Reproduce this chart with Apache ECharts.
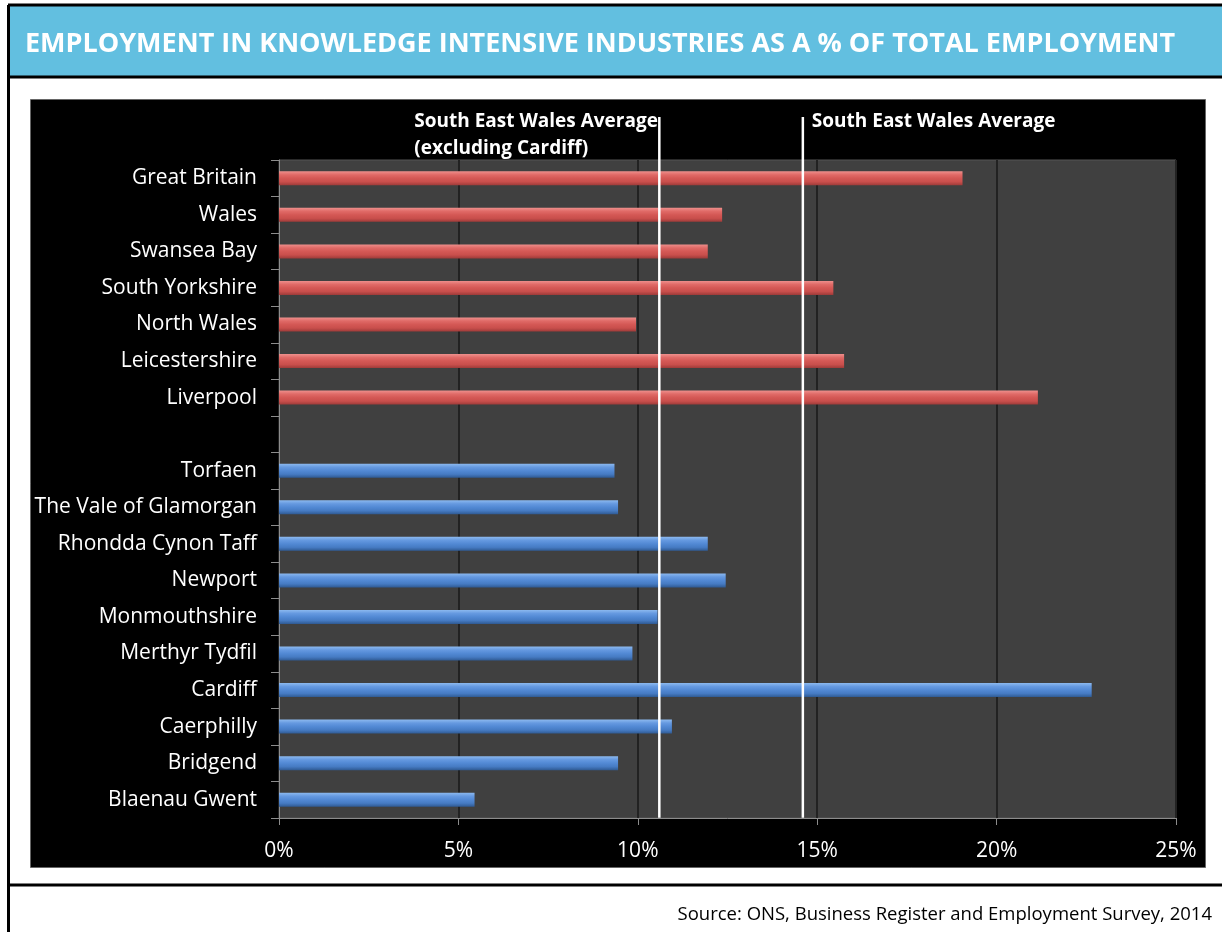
<!DOCTYPE html>
<html>
<head>
<meta charset="utf-8">
<title>Employment in knowledge intensive industries</title>
<script src="https://cdn.jsdelivr.net/npm/echarts@6/dist/echarts.min.js"></script>
<style>
  html, body { margin: 0; padding: 0; background: #ffffff; }
  #chart { width: 1222px; height: 932px; }
</style>
</head>
<body>
<div id="chart"></div>
<script>
// Areas, listed top to bottom; the empty entry separates the comparators from SE Wales
const categories = [
  'Great Britain', 'Wales', 'Swansea Bay', 'South Yorkshire', 'North Wales',
  'Leicestershire', 'Liverpool', '',
  'Torfaen', 'The Vale of Glamorgan', 'Rhondda Cynon Taff', 'Newport',
  'Monmouthshire', 'Merthyr Tydfil', 'Cardiff', 'Caerphilly', 'Bridgend', 'Blaenau Gwent'
];
// Comparator regions (%)
const comparatorValues = [19.05, 12.35, 11.95, 15.45, 9.95, 15.75, 21.15, null,
  null, null, null, null, null, null, null, null, null, null];
// South East Wales local authorities (%)
const seWalesValues = [null, null, null, null, null, null, null, null,
  9.35, 9.45, 11.95, 12.45, 10.55, 9.85, 22.65, 10.95, 9.45, 5.45];
// Reference averages (%)
const avgExclCardiff = 10.6;
const avgSEWales = 14.6;
const avgLabels = ['South East Wales Average\n(excluding Cardiff)', 'South East Wales Average'];
// Axis ticks (%)
const xTicks = [0, 5, 10, 15, 20, 25];

const FONT = 'Open Sans';
const chart = echarts.init(document.getElementById('chart'), null, { renderer: 'canvas' });

function barGradient(stops) {
  return new echarts.graphic.LinearGradient(0, 0, 0, 1, stops.map((c, i) => ({ offset: i / (stops.length - 1), color: c })));
}
const redFill = barGradient(['#ee8f8c', '#e06a67', '#d45855', '#c94f4c', '#9e3b39']);
const blueFill = barGradient(['#8cb9ef', '#6599e0', '#5289d4', '#467bc3', '#2f5a93']);

const frame = [
  // title band
  { type: 'rect', shape: { x: 8, y: 5, width: 1214, height: 71 }, style: { fill: '#62bfe0' }, z: -10 },
  { type: 'line', shape: { x1: 8, y1: 5, x2: 1222, y2: 5 }, style: { stroke: '#000', lineWidth: 3 }, z: -9 },
  { type: 'line', shape: { x1: 8, y1: 77, x2: 1222, y2: 77 }, style: { stroke: '#000', lineWidth: 3 }, z: -9 },
  { type: 'line', shape: { x1: 8.5, y1: 5, x2: 8.5, y2: 932 }, style: { stroke: '#000', lineWidth: 3 }, z: -9 },
  { type: 'line', shape: { x1: 8, y1: 885, x2: 1222, y2: 885 }, style: { stroke: '#000', lineWidth: 3 }, z: -9 },
  // black chart panel
  { type: 'rect', shape: { x: 30.5, y: 99.5, width: 1175, height: 768 }, style: { fill: '#000', stroke: '#666', lineWidth: 1 }, z: -8 }
];

chart.setOption({
  animation: false,
  title: [
    {
      text: 'EMPLOYMENT IN KNOWLEDGE INTENSIVE INDUSTRIES AS A % OF TOTAL EMPLOYMENT',
      left: 20, top: 26,
      textStyle: { color: '#ffffff', fontFamily: FONT, fontWeight: 'bold', fontSize: 27 }
    },
    {
      text: 'Source: ONS, Business Register and Employment Survey, 2014',
      right: 5, top: 900,
      textStyle: { color: '#000000', fontFamily: FONT, fontWeight: 'normal', fontSize: 18.5 }
    }
  ],
  graphic: frame,
  grid: {
    left: 279, top: 160, right: 46, bottom: 114,
    show: true, backgroundColor: '#404040', borderColor: '#555555', borderWidth: 1
  },
  xAxis: {
    type: 'value', min: 0, max: 25, interval: 5,
    axisLine: { show: true, lineStyle: { color: '#8c8c8c', width: 1 } },
    axisTick: { show: true, length: 7, lineStyle: { color: '#8c8c8c' } },
    axisLabel: {
      color: '#ffffff', fontFamily: FONT, fontSize: 21, margin: 23,
      formatter: v => xTicks.includes(v) ? v + '%' : ''
    },
    splitLine: { show: true, lineStyle: { color: '#222222', width: 2 } }
  },
  yAxis: {
    type: 'category', data: categories, inverse: true,
    axisLine: { show: true, lineStyle: { color: '#8c8c8c', width: 1 } },
    axisTick: { show: true, length: 8, lineStyle: { color: '#8c8c8c' } },
    axisLabel: { color: '#ffffff', fontFamily: FONT, fontSize: 21, margin: 22, padding: [3, 0, 0, 0] },
    splitLine: { show: false }
  },
  series: [
    {
      name: 'Comparators', type: 'bar', data: comparatorValues, barWidth: 14, barGap: '-100%',
      itemStyle: { color: redFill, shadowColor: 'rgba(0,0,0,0.7)', shadowBlur: 3, shadowOffsetX: 1, shadowOffsetY: 2 }
    },
    {
      name: 'South East Wales', type: 'bar', data: seWalesValues, barWidth: 14, barGap: '-100%',
      itemStyle: { color: blueFill, shadowColor: 'rgba(0,0,0,0.7)', shadowBlur: 3, shadowOffsetX: 1, shadowOffsetY: 2 }
    }
  ]
});

// Average reference lines, placed through the value axis and drawn up into the panel header
const plotBottom = chart.convertToPixel({ yAxisIndex: 0 }, categories[categories.length - 1]) + 18;
const xA = chart.convertToPixel({ xAxisIndex: 0 }, avgExclCardiff);
const xB = chart.convertToPixel({ xAxisIndex: 0 }, avgSEWales);
const lineTop = 117;
chart.setOption({
  graphic: frame.concat([
    { type: 'line', shape: { x1: xA, y1: lineTop, x2: xA, y2: plotBottom }, style: { stroke: '#ffffff', lineWidth: 2.5 }, z: 20 },
    { type: 'line', shape: { x1: xB, y1: lineTop, x2: xB, y2: plotBottom }, style: { stroke: '#ffffff', lineWidth: 2.5 }, z: 20 },
    {
      type: 'text', x: xA - 245, y: 108, z: 20,
      style: { text: avgLabels[0], fill: '#ffffff', font: 'bold 19px "' + FONT + '"', lineHeight: 27, align: 'left', verticalAlign: 'top' }
    },
    {
      type: 'text', x: xB + 9, y: 108, z: 20,
      style: { text: avgLabels[1], fill: '#ffffff', font: 'bold 19px "' + FONT + '"', lineHeight: 27, align: 'left', verticalAlign: 'top' }
    }
  ])
}, { replaceMerge: ['graphic'] });
</script>
</body>
</html>
